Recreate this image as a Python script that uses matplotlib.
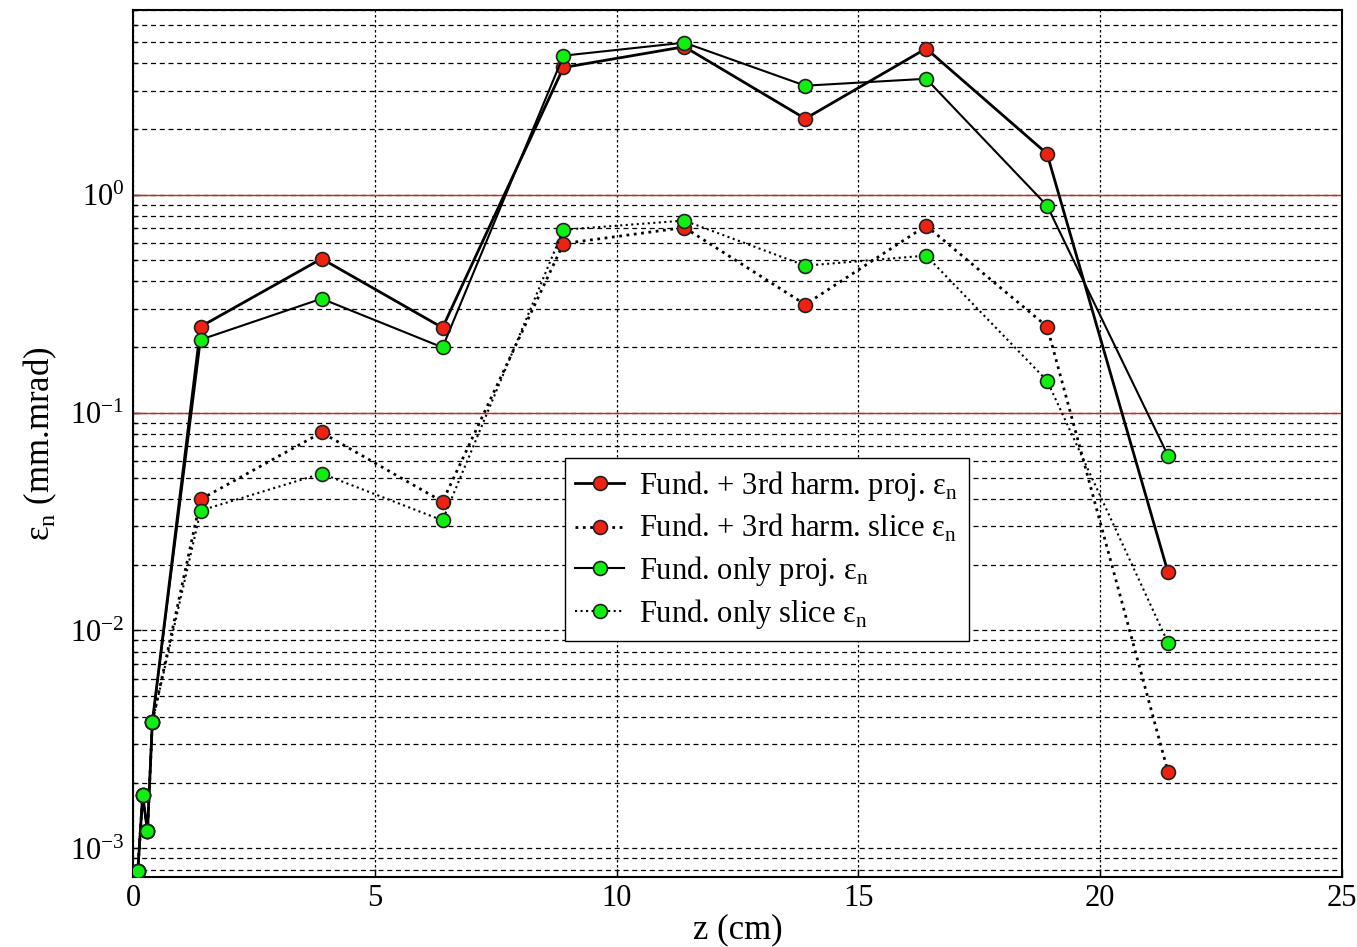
import numpy as np
import matplotlib.pyplot as plt
from matplotlib.ticker import LogLocator, NullFormatter

plt.rcParams['font.family'] = ['Liberation Serif', 'DejaVu Serif']
plt.rcParams['mathtext.fontset'] = 'custom'
plt.rcParams['mathtext.rm'] = 'Liberation Serif'

# z positions (cm)
z = [0.1, 0.2, 0.3, 0.4, 1.4, 3.9, 6.4, 8.9, 11.4, 13.9, 16.4, 18.9, 21.4]

# emittances (mm.mrad)
harm_proj = [7.9e-4, 1.75e-3, 1.2e-3, 3.8e-3, 0.248, 0.508, 0.245, 3.83, 4.77, 2.23, 4.68, 1.54, 0.0185]
harm_slice = [7.9e-4, 1.75e-3, 1.2e-3, 3.8e-3, 0.040, 0.081, 0.039, 0.596, 0.706, 0.313, 0.72, 0.248, 0.00225]
fund_proj = [7.9e-4, 1.75e-3, 1.2e-3, 3.8e-3, 0.216, 0.333, 0.199, 4.34, 4.98, 3.16, 3.40, 0.89, 0.0635]
fund_slice = [7.9e-4, 1.75e-3, 1.2e-3, 3.8e-3, 0.0355, 0.0525, 0.032, 0.69, 0.76, 0.472, 0.525, 0.14, 0.0088]

labels = [r'Fund. + 3rd harm. proj. ε$_{\mathrm{n}}$',
          r'Fund. + 3rd harm. slice ε$_{\mathrm{n}}$',
          r'Fund. only proj. ε$_{\mathrm{n}}$',
          r'Fund. only slice ε$_{\mathrm{n}}$']

red = '#ee2211'
green = '#11ee11'

fig = plt.figure(figsize=(13.57, 9.47), dpi=100)
ax = fig.add_axes([0.098, 0.074, 0.891, 0.915])

ax.set_yscale('log')
ax.set_xlim(0, 25)
ax.set_ylim(7.4e-4, 7)

# grid
ax.yaxis.set_major_locator(LogLocator(base=10, numticks=10))
ax.yaxis.set_minor_locator(LogLocator(base=10, subs=np.arange(2, 10), numticks=10))
ax.yaxis.set_minor_formatter(NullFormatter())
ax.grid(True, axis='y', which='both', color='black', linestyle=(0, (4, 3)), linewidth=0.9)
ax.grid(True, axis='x', which='major', color='black', linestyle=(0, (2, 2)), linewidth=0.9)
ax.axhline(1.0, color='#dd2211', linewidth=1.0, zorder=2)
ax.axhline(0.1, color='#dd2211', linewidth=1.0, zorder=2)

mk = dict(marker='o', markersize=10, markeredgecolor='#222222', markeredgewidth=1.2)
ax.plot(z, harm_proj, color='black', linestyle='-', linewidth=2, markerfacecolor=red, label=labels[0], zorder=3, **mk)
ax.plot(z, harm_slice, color='black', linestyle=':', linewidth=2, markerfacecolor=red, label=labels[1], zorder=3, **mk)
ax.plot(z, fund_proj, color='black', linestyle='-', linewidth=1.5, markerfacecolor=green, label=labels[2], zorder=4, **mk)
ax.plot(z, fund_slice, color='black', linestyle=':', linewidth=1.5, markerfacecolor=green, label=labels[3], zorder=4, **mk)

ax.set_xticks([0, 5, 10, 15, 20, 25])
ax.tick_params(axis='both', which='major', direction='in', labelsize=22, length=6, width=1)
ax.tick_params(axis='both', which='minor', direction='in', length=3, width=1)
ax.tick_params(axis='x', pad=5)
ax.tick_params(axis='y', pad=6)
for s in ax.spines.values():
    s.set_linewidth(1.5)

ax.set_xlabel('z (cm)', fontsize=25, labelpad=0)
ax.set_ylabel(r'ε$_{\mathrm{n}}$ (mm.mrad)', fontsize=25, labelpad=8)

leg = ax.legend(loc='upper left', bbox_to_anchor=(0.357, 0.483), borderaxespad=0, fontsize=22,
                frameon=True, fancybox=False, framealpha=1, edgecolor='black',
                handlelength=1.6, handletextpad=0.5, borderpad=0.35, labelspacing=0.3)
leg.get_frame().set_linewidth(1.0)

fig.savefig('out.png', dpi=100)
